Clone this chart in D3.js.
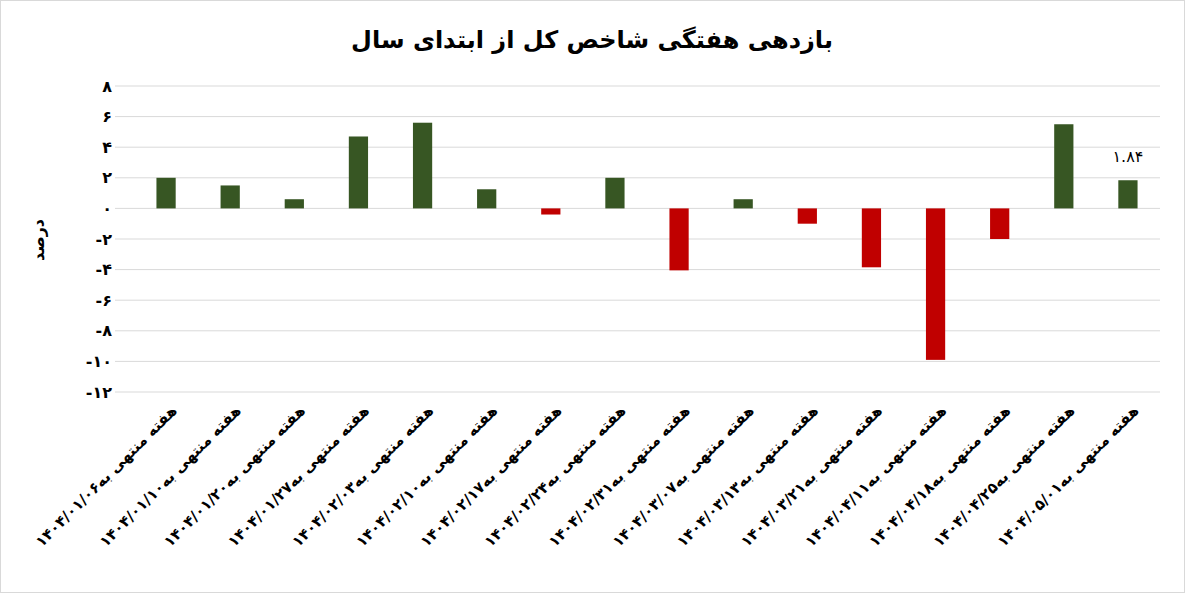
<!DOCTYPE html>
<html>
<head>
<meta charset="utf-8">
<script src="https://cdn.jsdelivr.net/npm/d3@7"></script>
<style>
  body { margin: 0; background: #fff; }
  text { font-family: "DejaVu Sans", sans-serif; }
</style>
</head>
<body>
<svg id="chart" width="1185" height="593"></svg>
<script>
// data
const dates = ["1404/01/06", "1404/01/10", "1404/01/20", "1404/01/27", "1404/02/03", "1404/02/10",
  "1404/02/17", "1404/02/24", "1404/02/31", "1404/03/07", "1404/03/13", "1404/03/21",
  "1404/04/11", "1404/04/18", "1404/04/25", "1404/05/01"];
const returns = [2.0, 1.5, 0.6, 4.7, 5.6, 1.25, -0.4, 2.0, -4.05, 0.6, -1.0, -3.85, -9.9, -2.0, 5.5, 1.84];
const yTicks = [8, 6, 4, 2, 0, -2, -4, -6, -8, -10, -12];

const fa = s => String(s).replace(/\d/g, d => "۰۱۲۳۴۵۶۷۸۹"[d]);

const svg = d3.select("#chart");

svg.append("rect").attr("x", 0.5).attr("y", 0.5).attr("width", 1184).attr("height", 592)
  .attr("fill", "#fff").attr("stroke", "#d9d9d9");

const g = svg.append("g");

const x = d3.scaleBand().domain(dates).range([134, 1160]).paddingInner(0.7).paddingOuter(0.35);
const y = d3.scaleLinear().domain([-12, 8]).range([392, 86]);

// grid
g.selectAll(".grid").data(yTicks).join("line")
  .attr("x1", 115).attr("x2", 1160)
  .attr("y1", d => y(d)).attr("y2", d => y(d))
  .attr("stroke", "#d9d9d9");

// y labels
g.selectAll(".ytick").data(yTicks).join("text")
  .attr("x", 112).attr("y", d => y(d)).attr("dy", "0.35em")
  .attr("text-anchor", "end").attr("font-size", 16).attr("font-weight", "bold")
  .text(d => d < 0 ? "-" + fa(-d) : fa(d));

// bars
g.selectAll(".bar").data(returns).join("rect")
  .attr("x", (d, i) => x(dates[i]))
  .attr("width", x.bandwidth())
  .attr("y", d => y(Math.max(0, d)))
  .attr("height", d => Math.abs(y(d) - y(0)))
  .attr("fill", d => d >= 0 ? "#375623" : "#c00000");

// last bar value label
const li = returns.length - 1;
g.append("text")
  .attr("x", x(dates[li]) + x.bandwidth() / 2)
  .attr("y", y(returns[li]) - 18)
  .attr("text-anchor", "middle").attr("font-size", 16)
  .text(fa(returns[li].toFixed(2)));

// x labels
g.selectAll(".xl").data(dates).join("text")
  .attr("transform", d => `translate(${x(d) + x.bandwidth() / 2 + 8},${408}) rotate(-45)`)
  .attr("direction", "rtl")
  .attr("text-anchor", "start")
  .attr("font-size", 15).attr("font-weight", "bold")
  .attr("dy", "0.35em")
  .text(d => "هفته منتهی به" + fa(d));

// y axis title
svg.append("text")
  .attr("transform", "translate(44,240) rotate(-90)")
  .attr("text-anchor", "middle").attr("font-size", 16).attr("font-weight", "bold")
  .text("درصد");

// title
svg.append("text")
  .attr("x", 592).attr("y", 48)
  .attr("text-anchor", "middle").attr("font-size", 24).attr("font-weight", "bold")
  .text("بازدهی هفتگی شاخص کل از ابتدای سال");
</script>
</body>
</html>
